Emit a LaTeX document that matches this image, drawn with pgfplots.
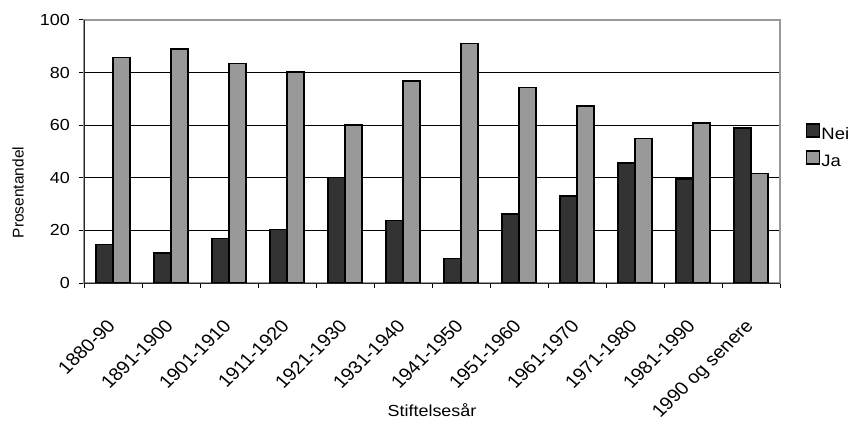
\documentclass[border=0pt]{standalone}
\usepackage{pgfplots}
\pgfplotsset{compat=1.18}
\usepackage{fontspec}
\setmainfont{Liberation Sans}[FakeStretch=1.12]
\newfontfamily\plainfont{Liberation Sans}
\definecolor{nei}{HTML}{333333}
\definecolor{ja}{HTML}{999999}
\begin{document}
\fontsize{16}{19}\selectfont
\begin{tikzpicture}
\path[use as bounding box] (0pt,0pt) rectangle (856pt,426pt);
\begin{axis}[
  at={(84pt,143pt)}, anchor=south west,
  scale only axis,
  width=696pt, height=263pt,
  ybar=0pt, bar width=17pt,
  xmin=-0.5, xmax=11.5,
  ymin=0, ymax=100,
  ytick={0,20,40,60,80,100},
  xtick={0,...,11},
  xticklabels={1880-90,1891-1900,1901-1910,1911-1920,1921-1930,1931-1940,1941-1950,1951-1960,1961-1970,1971-1980,1981-1990,1990 og senere},
  minor xtick={-0.5,0.5,...,11.5},
  major x tick style={draw=none},
  minor x tick style={black, line width=1pt},
  y tick style={black, line width=1pt},
  tick align=outside, tick pos=left,
  major tick length=5pt, minor tick length=5pt,
  x tick label style={xshift=-7pt, yshift=-30pt, xscale=1.1, rotate=47, anchor=north east, inner sep=0pt, font=\plainfont\fontsize{18}{20}\selectfont},
  y tick label style={anchor=east, inner sep=0pt, xshift=-9pt, font=\fontsize{16}{19}\selectfont},
  ymajorgrids, grid style={black, line width=0.8pt},
  axis line style={gray!80, line width=1.5pt},
  /pgf/number format/assume math mode=true,
  ylabel={Prosentandel},
  xlabel={Stiftelsesår},
  ylabel style={at={(axis description cs:-0.0948,0.344)}, anchor=center, font=\plainfont\fontsize{15.5}{18}\selectfont},
  xlabel style={at={(axis description cs:0.5,-0.483)}, anchor=center, font=\fontsize{16}{19}\selectfont},
  legend style={draw=none, fill=none, at={(axis description cs:1.037,0.519)}, anchor=west, inner sep=0pt, font=\fontsize{16.5}{19}\selectfont, row sep=7pt,
    nodes={inner sep=1pt}},
  legend cell align=left,
  legend image code/.code={\draw[#1, line width=1.5pt] (0pt,-2pt) rectangle (13pt,11pt);},
  after end axis/.code={\draw[black!85, line width=1pt] (rel axis cs:0,1) -- (rel axis cs:0,0) -- (rel axis cs:1,0);},
]
\addplot[fill=nei, draw=black, line width=1.5pt] coordinates {
(0,14.6) (1,11.4) (2,17.0) (3,20.3) (4,40.1) (5,23.8) (6,9.4) (7,26.2) (8,33.0) (9,45.6) (10,39.5) (11,58.9)};
\addplot[fill=ja, draw=black, line width=1.5pt] coordinates {
(0,85.8) (1,89.0) (2,83.5) (3,80.3) (4,60.1) (5,76.8) (6,91.1) (7,74.3) (8,67.3) (9,54.9) (10,60.8) (11,41.6)};
\legend{Nei,Ja}
\end{axis}
\end{tikzpicture}
\end{document}
